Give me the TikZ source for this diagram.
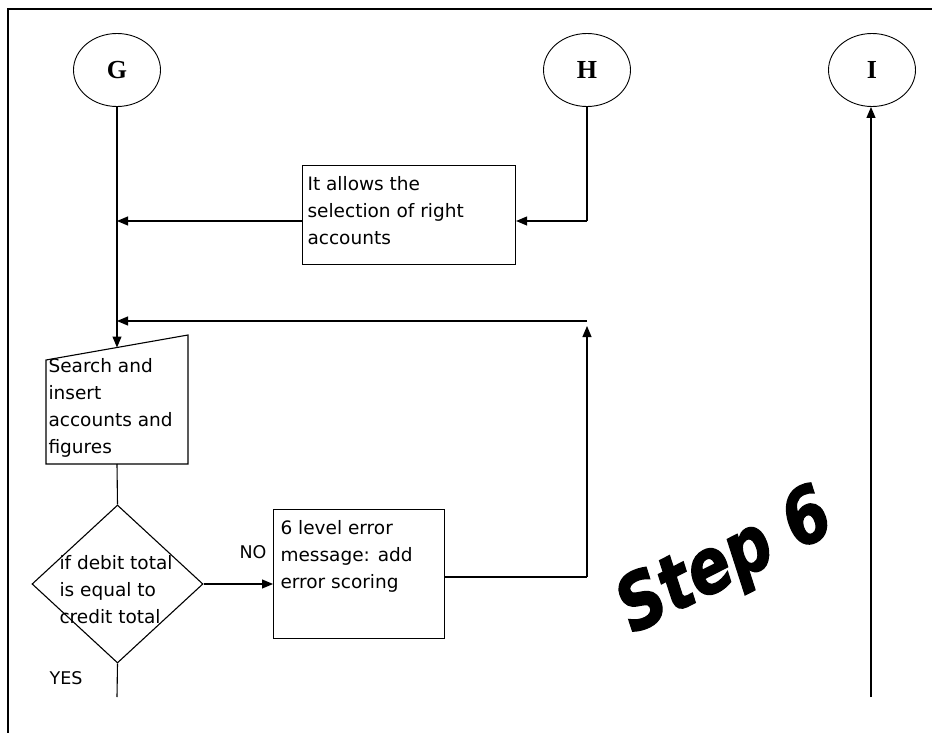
\documentclass[tikz,border=0pt]{standalone}
\usepackage{fontspec}
\setmainfont{DejaVu Sans}
\newfontfamily\circfont{Liberation Serif}
\newfontfamily\stepfont[FakeBold=2]{DejaVu Sans}
\usetikzlibrary{arrows.meta,shapes.geometric}
\begin{document}
\begin{tikzpicture}[x=1pt,y=-1pt,
  line width=1.1pt,
  conn/.style={draw, line width=1.1pt},
  arr/.style={conn, -{Triangle[length=11pt,width=9pt]}},
  conncirc/.style={draw, ellipse, line width=0.9pt, minimum width=87pt, minimum height=73pt, inner sep=0pt, font=\circfont\bfseries\fontsize{26}{26}\selectfont},
  procbox/.style={draw, rectangle, line width=1.1pt, inner sep=0pt, anchor=north west},
  boxtext/.style={anchor=north west, align=left, inner sep=0pt, font=\fontsize{18.5}{27}\selectfont},
  lbl/.style={inner sep=0pt, font=\fontsize{17.5}{20}\selectfont}
]
\useasboundingbox (0,0) rectangle (932,733);
% frame
\coordinate (fTR) at (932,9);
\coordinate (fTL) at (8,9);
\coordinate (fBL) at (8,733);
\draw[line width=2pt] (fTR) -- (fTL) -- (fBL);

% connector circles
\node[conncirc] (G) at (117,70) {G};
\node[conncirc] (H) at (587,70) {H};
\node[conncirc] (I) at (872,70) {I};

% process box 1
\node[procbox, minimum width=213pt, minimum height=99pt] (sel) at (302,165) {};
\node[boxtext] (seltxt) at (307,176) {It allows the\\selection of right\\accounts};

% manual input shape
\coordinate (sTL) at (46,360);
\coordinate (sTR) at (188,335);
\coordinate (sBR) at (188,464);
\coordinate (sBL) at (46,464);
\draw (sTL) -- (sTR) -- (sBR) -- (sBL) -- cycle;
\coordinate (sTop) at (117,347.5);
\coordinate (sBot) at (117,464);
\node[boxtext] (srchtxt) at (48,358) {Search and\\insert\\accounts and\\figures};

% decision
\node[draw, diamond, line width=1.1pt, minimum width=171pt, minimum height=158pt, inner sep=0pt] (dec) at (117.5,584) {};
\node[boxtext] (dectxt) at (59,555) {if debit total\\is equal to\\credit total};

% error box
\node[procbox, minimum width=171pt, minimum height=129pt] (err) at (273,509) {};
\node[boxtext] (errtxt) at (280,520) {6 level error\\message: add\\error scoring};

% labels
\node[lbl] (no) at (253,552) {NO};
\node[lbl] (yes) at (66,678) {YES};

% step 6
\node[rotate=27, inner sep=0pt, xscale=0.83, font=\stepfont\bfseries\itshape\fontsize{76}{76}\selectfont] (step) at (726,564) {Step 6};

% connectors
\coordinate (gj1) at (117,221);
\coordinate (gj2) at (117,321);
\coordinate (hcorner) at (587,221);
\coordinate (ecorner) at (587,577);
\coordinate (loopTip) at (587,326);
\coordinate (loopTop) at (587,321);
\coordinate (decBot) at (117,697);
\coordinate (iBot) at (871,697);
\coordinate (iTop) at (871,107);

\draw[arr] (G.south) -- (sTop);
\draw[conn] (H.south) -- (hcorner);
\draw[arr] (hcorner) -- (sel.east |- hcorner);
\draw[arr] (sel.west |- gj1) -- (gj1);
\draw[conn] (err.east |- ecorner) -- (ecorner);
\draw[arr] (ecorner) -- (loopTip);
\draw[arr] (loopTop) -- (gj2);
\draw[conn] (sBot) -- (dec.north);
\draw[arr] (dec.east) -- (err.west |- dec.east);
\draw[conn] (dec.south) -- (decBot);
\draw[arr] (iBot) -- (iTop);
\end{tikzpicture}
\end{document}
